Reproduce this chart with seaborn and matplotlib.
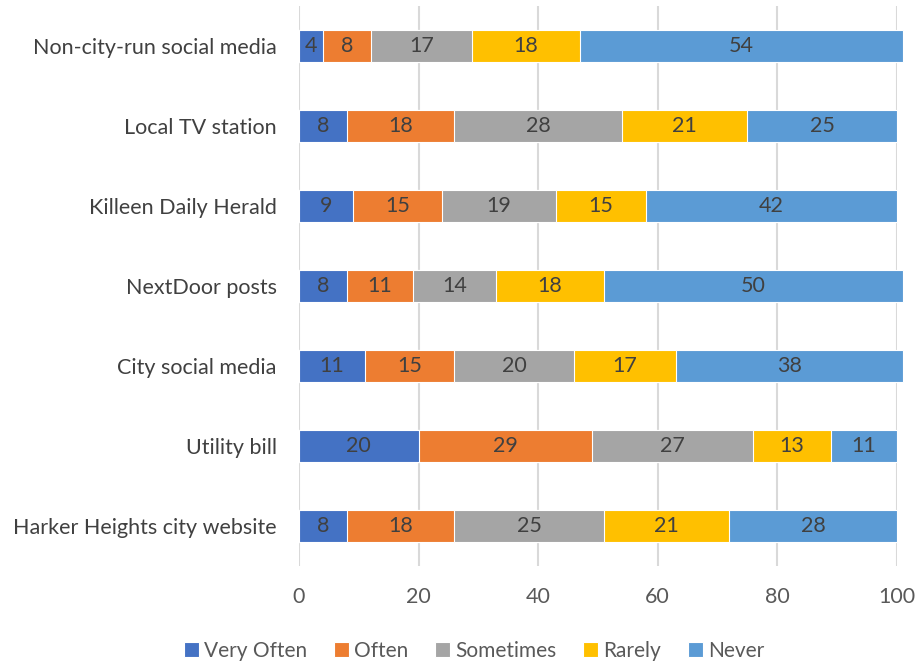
import matplotlib
matplotlib.use("Agg")
import matplotlib.pyplot as plt
import seaborn as sns
import pandas as pd
import numpy as np

categories = [
    "Non-city-run social media",
    "Local TV station",
    "Killeen Daily Herald",
    "NextDoor posts",
    "City social media",
    "Utility bill",
    "Harker Heights city website",
]
series_names = ["Very Often", "Often", "Sometimes", "Rarely", "Never"]
very_often = [4, 8, 9, 8, 11, 20, 8]
often = [8, 18, 15, 11, 15, 29, 18]
sometimes = [17, 28, 19, 14, 20, 27, 25]
rarely = [18, 21, 15, 18, 17, 13, 21]
never = [54, 25, 42, 50, 38, 11, 28]
x_ticks = [0, 20, 40, 60, 80, 100]

colors = ["#4472C4", "#ED7D31", "#A5A5A5", "#FFC000", "#5B9BD5"]

sns.set_theme(style="white")
plt.rcParams["font.family"] = ["Lato", "DejaVu Sans"]

df = pd.DataFrame(
    {"category": categories, "Very Often": very_often, "Often": often,
     "Sometimes": sometimes, "Rarely": rarely, "Never": never}
)
cum = df[series_names].cumsum(axis=1)

fig = plt.figure(figsize=(9.17, 6.65), dpi=100)
ax = fig.add_axes([0.326, 0.149, 0.652, 0.842])

# draw cumulative totals from the outermost segment inward so they stack
for name, col in reversed(list(zip(series_names, colors))):
    sns.barplot(x=cum[name], y=df["category"], color=col, width=0.4,
                orient="h", ax=ax, edgecolor="white", linewidth=0.8,
                saturation=1, label=name)

for p in ax.patches:
    p.set_clip_on(False)

# value labels centred in each segment
for i in range(len(categories)):
    for name in series_names:
        v = df.loc[i, name]
        center = cum.loc[i, name] - v / 2
        ax.text(center, i, str(v), ha="center", va="center",
                fontsize=15.5, color="#404040")

ax.set_xlim(0, 100)
ax.set_ylim(6.5, -0.5)
ax.set_xticks(x_ticks)
ax.set_xticklabels([str(t) for t in x_ticks])
ax.xaxis.grid(True, color="#D9D9D9", linewidth=1.5)
ax.set_axisbelow(True)
for s in ax.spines.values():
    s.set_visible(False)
ax.set_xlabel("")
ax.set_ylabel("")
ax.tick_params(axis="x", labelsize=15.5, labelcolor="#595959", length=0, pad=15)
ax.tick_params(axis="y", labelsize=15.5, labelcolor="#404040", length=0, pad=16)

handles, labels = ax.get_legend_handles_labels()
order = [labels.index(n) for n in series_names]
if ax.get_legend() is not None:
    ax.get_legend().remove()
fig.legend([handles[k] for k in order], series_names, loc="center",
           bbox_to_anchor=(0.517, 0.021), ncol=5, frameon=False,
           fontsize=15, labelcolor="#595959", handlelength=0.7,
           handleheight=0.7, handletextpad=0.25, columnspacing=1.3)

fig.savefig("out.png", dpi=100)
